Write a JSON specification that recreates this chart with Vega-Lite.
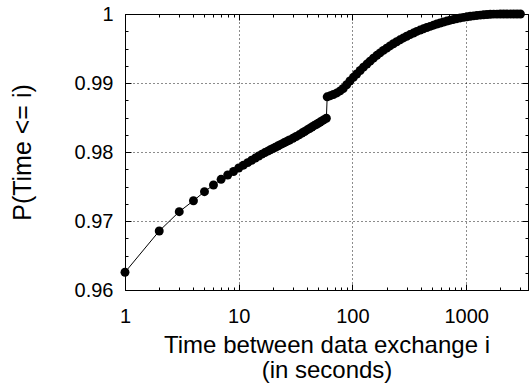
{
  "$schema": "https://vega.github.io/schema/vega-lite/v6.json",
  "width": 403,
  "height": 276,
  "autosize": {"type": "none"},
  "padding": {"left": 125, "top": 14, "right": 2, "bottom": 98},
  "background": "white",
  "config": {
    "view": {"stroke": "#000", "strokeWidth": 1},
    "font": "Liberation Sans"
  },
  "data": {
    "values": [
      {"t": 1, "p": 0.96257}, {"t": 2, "p": 0.96855}, {"t": 3, "p": 0.97135}, {"t": 4, "p": 0.97294},
      {"t": 5, "p": 0.97425}, {"t": 6, "p": 0.97522}, {"t": 7, "p": 0.97604}, {"t": 8, "p": 0.97667},
      {"t": 9, "p": 0.97717}, {"t": 10, "p": 0.97768}, {"t": 11, "p": 0.97809}, {"t": 12, "p": 0.97846},
      {"t": 13, "p": 0.9788}, {"t": 14, "p": 0.97912}, {"t": 15, "p": 0.97942}, {"t": 16, "p": 0.97969},
      {"t": 17, "p": 0.97992}, {"t": 18, "p": 0.98013}, {"t": 19, "p": 0.98033}, {"t": 20, "p": 0.98051},
      {"t": 21, "p": 0.98069}, {"t": 22, "p": 0.98086}, {"t": 23, "p": 0.98102}, {"t": 24, "p": 0.98118},
      {"t": 25, "p": 0.98133}, {"t": 26, "p": 0.98147}, {"t": 27, "p": 0.98161}, {"t": 28, "p": 0.98174},
      {"t": 30, "p": 0.98199}, {"t": 32, "p": 0.98225}, {"t": 34, "p": 0.98249}, {"t": 36, "p": 0.98274},
      {"t": 38, "p": 0.98297}, {"t": 40, "p": 0.9832}, {"t": 42, "p": 0.98341}, {"t": 44, "p": 0.98362},
      {"t": 46, "p": 0.98381}, {"t": 48, "p": 0.98399}, {"t": 50, "p": 0.98417}, {"t": 52, "p": 0.98434},
      {"t": 54, "p": 0.9845}, {"t": 56, "p": 0.98466}, {"t": 59, "p": 0.98489}, {"t": 60, "p": 0.988},
      {"t": 64, "p": 0.98816}, {"t": 68, "p": 0.98833},
      {"t": 73, "p": 0.98856}, {"t": 78, "p": 0.98886}, {"t": 83, "p": 0.9892}, {"t": 89, "p": 0.98975},
      {"t": 95, "p": 0.99029}, {"t": 102, "p": 0.99082}, {"t": 109, "p": 0.9913}, {"t": 117, "p": 0.99181},
      {"t": 125, "p": 0.99229}, {"t": 134, "p": 0.99274}, {"t": 143, "p": 0.99316}, {"t": 153, "p": 0.9936},
      {"t": 164, "p": 0.99401}, {"t": 175, "p": 0.99437}, {"t": 187, "p": 0.99473}, {"t": 200, "p": 0.99505},
      {"t": 214, "p": 0.99537}, {"t": 229, "p": 0.99569}, {"t": 245, "p": 0.99598}, {"t": 262, "p": 0.99626},
      {"t": 281, "p": 0.99653}, {"t": 300, "p": 0.99677}, {"t": 321, "p": 0.99702}, {"t": 344, "p": 0.99724},
      {"t": 368, "p": 0.99747}, {"t": 394, "p": 0.99767}, {"t": 421, "p": 0.99785}, {"t": 451, "p": 0.99804},
      {"t": 482, "p": 0.99821}, {"t": 516, "p": 0.99838}, {"t": 552, "p": 0.99855}, {"t": 591, "p": 0.9987},
      {"t": 632, "p": 0.99884}, {"t": 677, "p": 0.99898}, {"t": 724, "p": 0.9991}, {"t": 775, "p": 0.99921},
      {"t": 829, "p": 0.99932}, {"t": 887, "p": 0.99943}, {"t": 949, "p": 0.99951}, {"t": 1016, "p": 0.99959},
      {"t": 1087, "p": 0.99966}, {"t": 1163, "p": 0.99973}, {"t": 1244, "p": 0.99979}, {"t": 1332, "p": 0.99984},
      {"t": 1425, "p": 0.99989}, {"t": 1525, "p": 0.99993}, {"t": 1631, "p": 0.99996}, {"t": 1746, "p": 0.99998},
      {"t": 1868, "p": 0.99998}, {"t": 1999, "p": 0.99999}, {"t": 2139, "p": 0.99999}, {"t": 2288, "p": 0.99999},
      {"t": 2449, "p": 1}, {"t": 2620, "p": 1}, {"t": 2803, "p": 1}, {"t": 3000, "p": 1}
    ]
  },
  "resolve": {"axis": {"x": "independent", "y": "independent"}},
  "layer": [
    {
      "mark": {"type": "line", "color": "#000", "strokeWidth": 1},
      "encoding": {
        "x": {
          "field": "t", "type": "quantitative",
          "scale": {"type": "log", "domain": [1, 3500], "nice": false},
          "axis": {
            "orient": "bottom",
            "values": [1,2,3,4,5,6,7,8,9,10,20,30,40,50,60,70,80,90,100,200,300,400,500,600,700,800,900,1000,2000,3000],
            "labelExpr": "indexof([1,10,100,1000], datum.value) >= 0 ? format(datum.value, 'd') : ''",
            "labelFont": "Liberation Sans", "labelFontSize": 20, "labelColor": "#000",
            "labelPadding": 22, "labelOverlap": false, "labelFlush": false,
            "tickColor": "#000", "tickWidth": 1,
            "tickSize": {"condition": {"test": "indexof([1,10,100,1000], datum.value) >= 0", "value": -6}, "value": -3},
            "grid": true, "gridColor": "#000", "gridDash": [1, 3], "gridWidth": 1,
            "gridOpacity": {"condition": {"test": "indexof([10,100,1000], datum.value) >= 0", "value": 0.9}, "value": 0},
            "domainColor": "#000",
            "title": ["Time between data exchange i", "(in seconds)"],
            "titleFont": "Liberation Sans", "titleFontSize": 24, "titleFontWeight": "normal", "titleColor": "#000",
            "titleX": 201.5, "titleY": 62, "titleAlign": "center", "titleBaseline": "alphabetic", "titleLineHeight": 25
          }
        },
        "y": {
          "field": "p", "type": "quantitative",
          "scale": {"domain": [0.96, 1], "nice": false, "zero": false},
          "axis": {
            "orient": "left",
            "values": [0.96,0.9625,0.965,0.9675,0.97,0.9725,0.975,0.9775,0.98,0.9825,0.985,0.9875,0.99,0.9925,0.995,0.9975,1],
            "labelExpr": "abs(datum.value*100 - round(datum.value*100)) < 0.01 ? format(datum.value, '.2~f') : ''",
            "labelFont": "Liberation Sans", "labelFontSize": 20, "labelColor": "#000",
            "labelPadding": 18, "labelOverlap": false, "labelFlush": false,
            "tickColor": "#000", "tickWidth": 1,
            "tickSize": {"condition": {"test": "abs(datum.value*100 - round(datum.value*100)) < 0.01", "value": -6}, "value": -3},
            "grid": true, "gridColor": "#000", "gridDash": [1, 3], "gridWidth": 1,
            "gridOpacity": {"condition": {"test": "abs(datum.value*100 - round(datum.value*100)) < 0.01 && datum.value > 0.961 && datum.value < 0.999", "value": 0.9}, "value": 0},
            "domainColor": "#000",
            "title": "P(Time <= i)",
            "titleFont": "Liberation Sans", "titleFontSize": 25, "titleFontWeight": "normal", "titleColor": "#000",
            "titleAngle": -90, "titleX": -95, "titleY": 138, "titleAlign": "center", "titleBaseline": "alphabetic"
          }
        }
      }
    },
    {
      "mark": {"type": "circle", "color": "#000", "opacity": 1, "size": 80},
      "encoding": {
        "x": {
          "field": "t", "type": "quantitative",
          "scale": {"type": "log", "domain": [1, 3500], "nice": false},
          "axis": {
            "orient": "top",
            "values": [1,2,3,4,5,6,7,8,9,10,20,30,40,50,60,70,80,90,100,200,300,400,500,600,700,800,900,1000,2000,3000],
            "labels": false, "grid": false, "title": null,
            "tickColor": "#000", "tickWidth": 1,
            "tickSize": {"condition": {"test": "indexof([1,10,100,1000], datum.value) >= 0", "value": -6}, "value": -3},
            "domainColor": "#000"
          }
        },
        "y": {
          "field": "p", "type": "quantitative",
          "scale": {"domain": [0.96, 1], "nice": false, "zero": false},
          "axis": {
            "orient": "right",
            "values": [0.96,0.9625,0.965,0.9675,0.97,0.9725,0.975,0.9775,0.98,0.9825,0.985,0.9875,0.99,0.9925,0.995,0.9975,1],
            "labels": false, "grid": false, "title": null,
            "tickColor": "#000", "tickWidth": 1,
            "tickSize": {"condition": {"test": "abs(datum.value*100 - round(datum.value*100)) < 0.01", "value": -6}, "value": -3},
            "domainColor": "#000"
          }
        }
      }
    }
  ]
}
